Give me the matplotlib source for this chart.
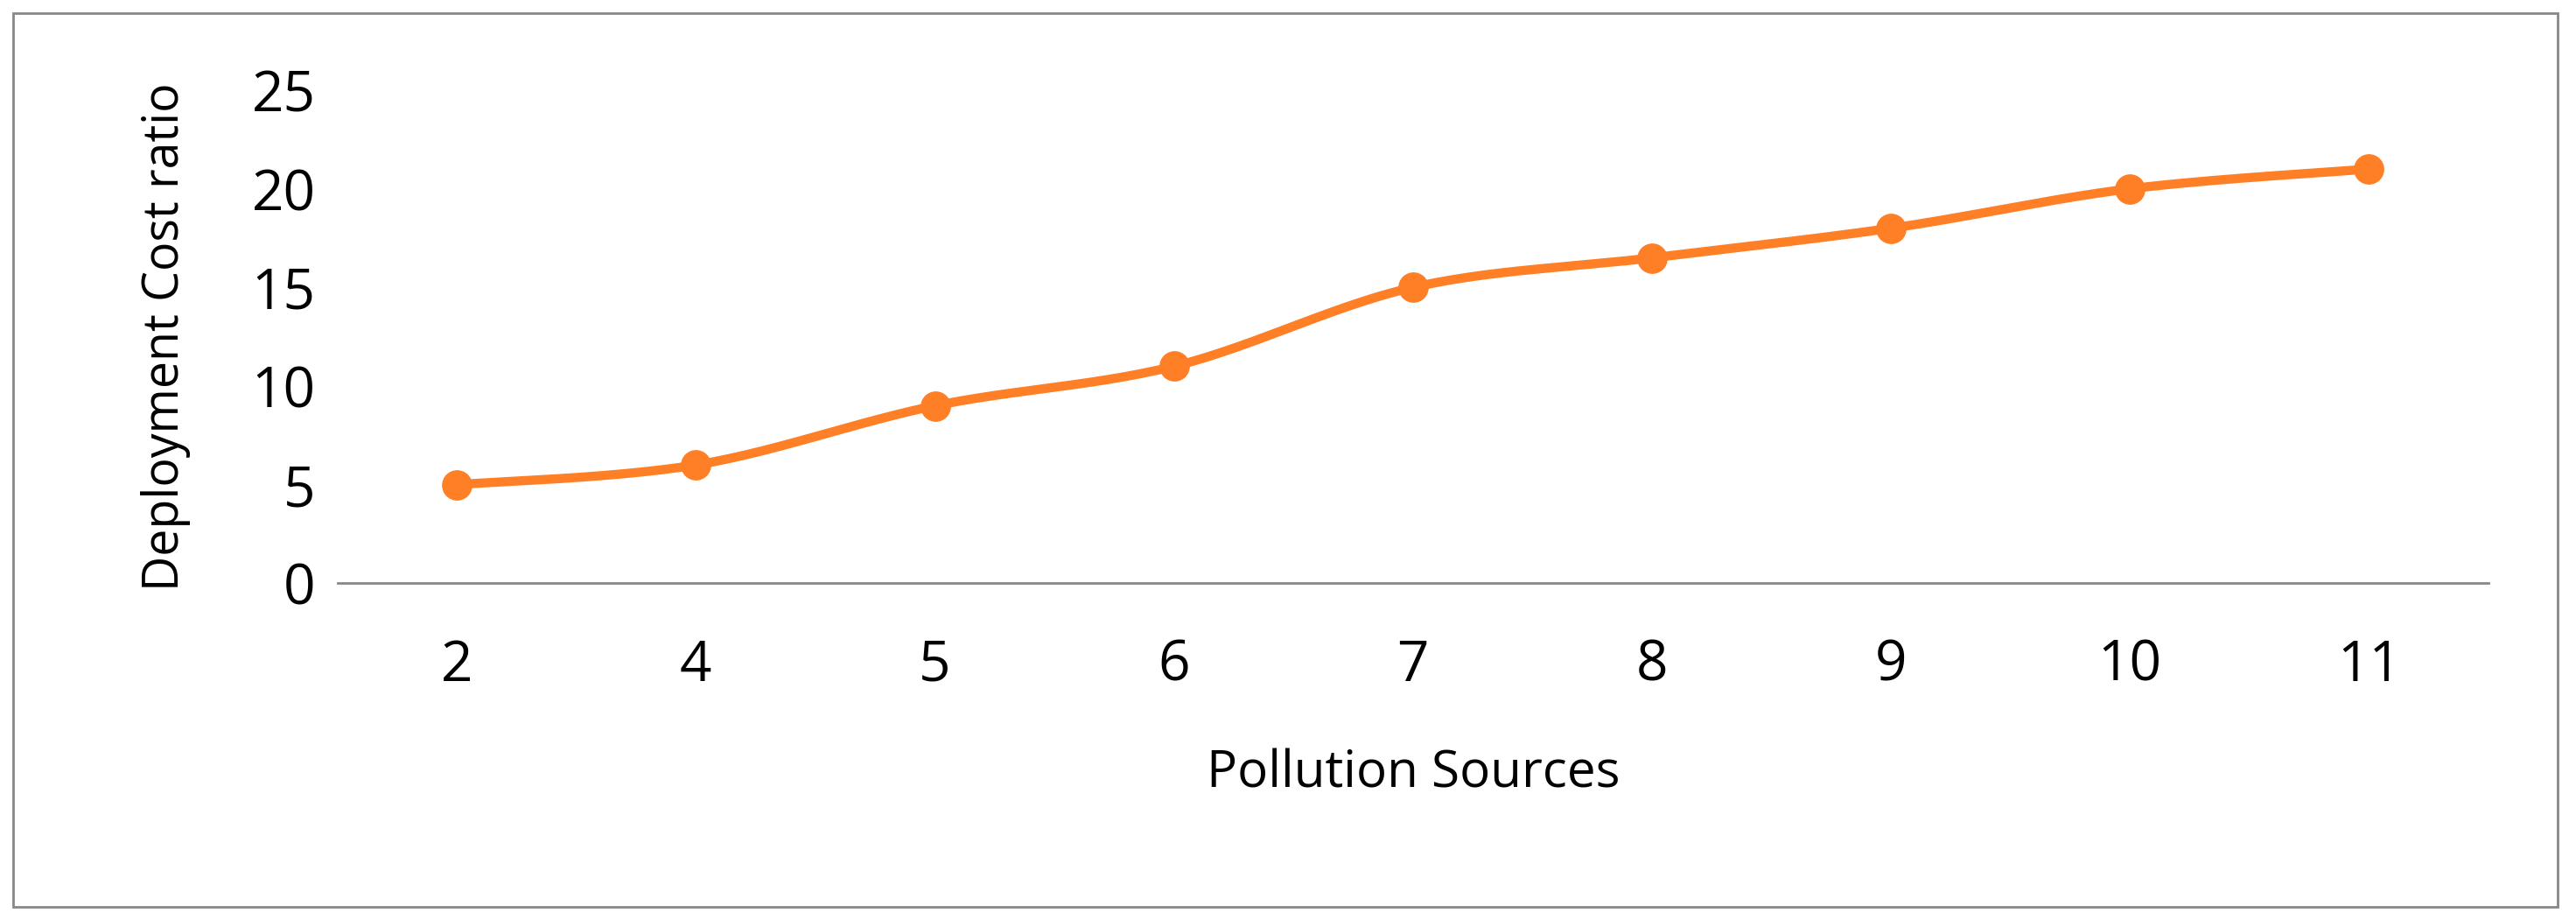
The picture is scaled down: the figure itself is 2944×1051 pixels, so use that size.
import matplotlib
matplotlib.use("Agg")
import matplotlib.pyplot as plt
import numpy as np
from matplotlib.patches import Rectangle

categories = ["2", "4", "5", "6", "7", "8", "9", "10", "11"]
values = [5, 6, 9, 11, 15, 16.5, 18, 20, 21]

plt.rcParams['font.family'] = ['Open Sans', 'DejaVu Sans']
color = '#FF7F27'

fig = plt.figure(figsize=(29.44, 10.51), dpi=100)
fig.patches.append(Rectangle((0.005, 0.014), 0.988, 0.972, transform=fig.transFigure,
                             fill=False, edgecolor='#888888', linewidth=2))
ax = fig.add_axes([0.131, 0.366, 0.835, 0.536])

x = np.arange(len(values))
y = np.array(values, float)
# Catmull-Rom smoothing (Excel-like smoothed line)
P = np.concatenate([[y[0]], y, [y[-1]]])
X = np.concatenate([[x[0]], x, [x[-1]]])
xs, ys = [], []
t = np.linspace(0, 1, 30)
for i in range(1, len(P) - 2):
    for arr, out in ((X, xs), (P, ys)):
        p0, p1, p2, p3 = arr[i-1], arr[i], arr[i+1], arr[i+2]
        out.extend(0.5 * ((2*p1) + (-p0+p2)*t + (2*p0-5*p1+4*p2-p3)*t**2 + (-p0+3*p1-3*p2+p3)*t**3))
ax.plot(xs, ys, color=color, linewidth=7.5, solid_capstyle='round')
ax.plot(x, y, 'o', color=color, markersize=24)

ax.set_xlim(-0.5, len(values) - 0.5)
ax.set_ylim(0, 25)
ax.set_yticks([0, 5, 10, 15, 20, 25])
ax.set_xticks(x)
ax.set_xticklabels(categories)
for s in ['top', 'right', 'left']:
    ax.spines[s].set_visible(False)
ax.spines['bottom'].set_color('#888888')
ax.spines['bottom'].set_linewidth(2)
ax.tick_params(axis='both', length=0, labelsize=46)
ax.tick_params(axis='x', pad=45)
ax.tick_params(axis='y', pad=18)
ax.set_xlabel('Pollution Sources', fontsize=42, labelpad=45)
ax.set_ylabel('Deployment Cost ratio', fontsize=40, labelpad=50)
fig.savefig('out.png', dpi=100)
